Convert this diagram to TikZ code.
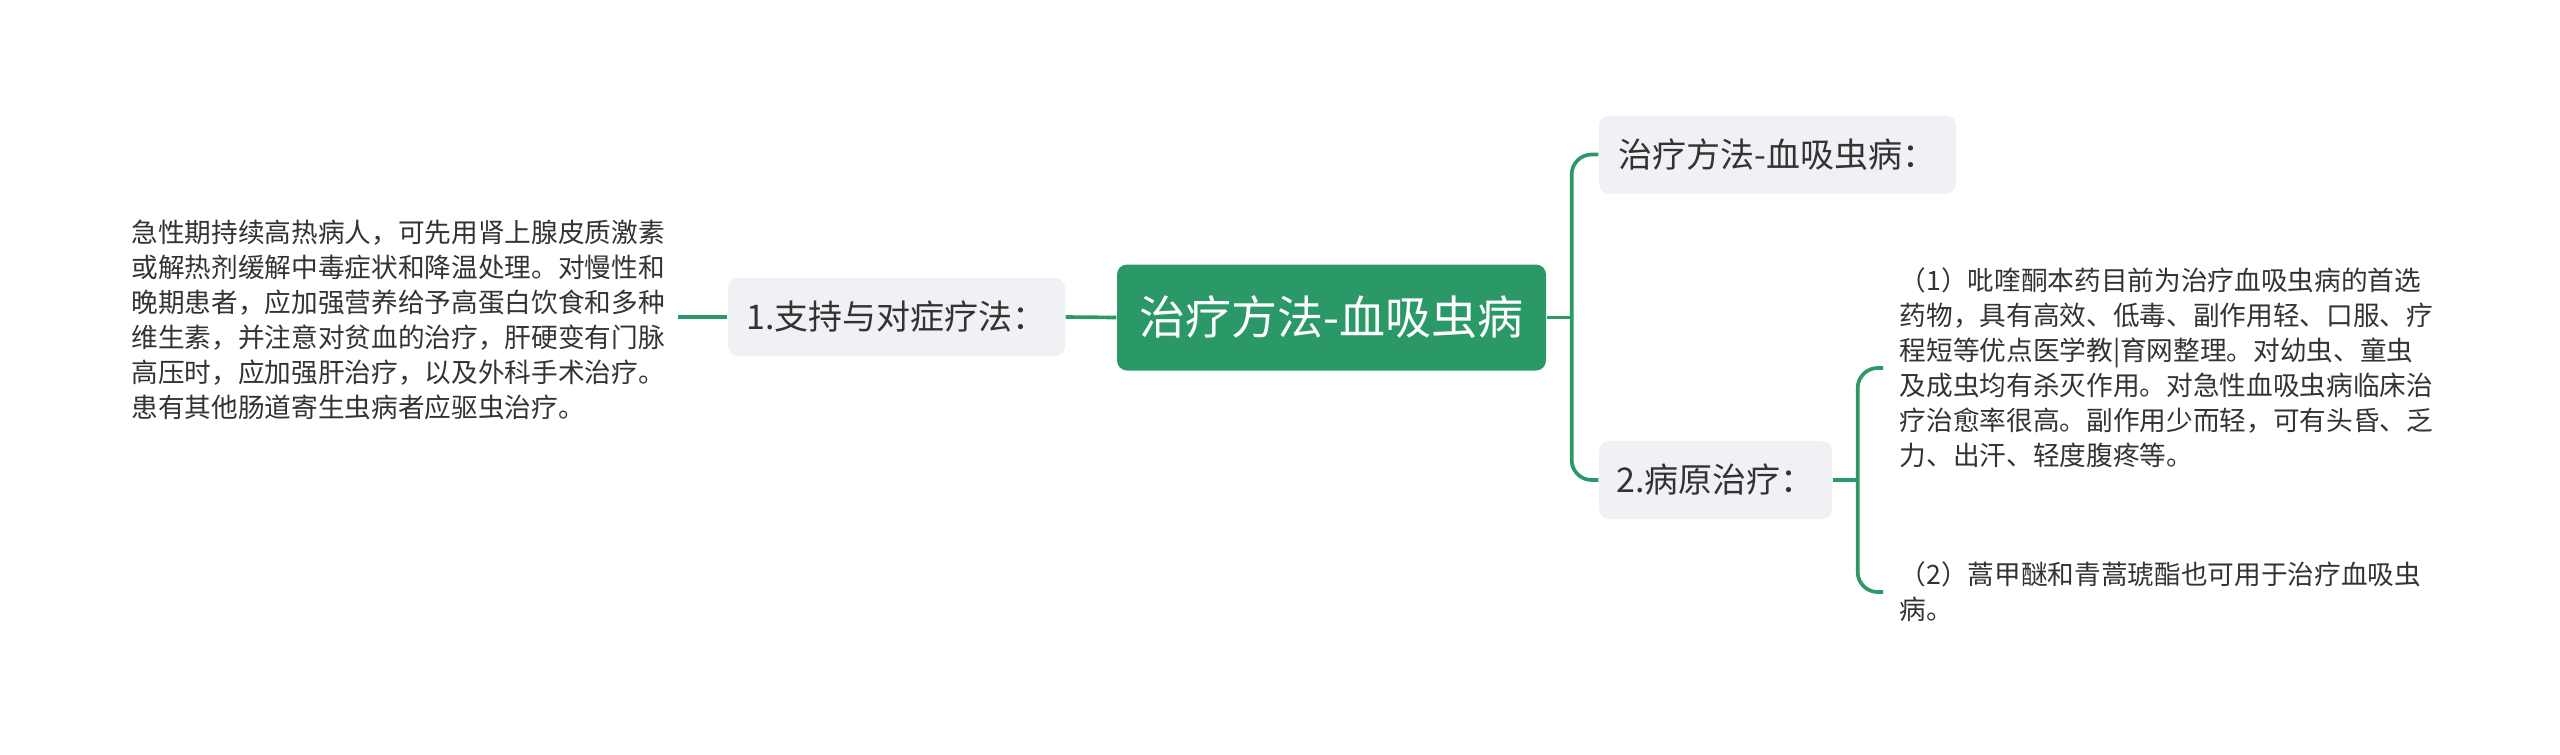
\documentclass[tikz,border=0pt]{standalone}
\usepackage{fontspec}
\setmainfont{Noto Sans CJK SC}
\usetikzlibrary{positioning,calc}

\definecolor{mapgreen}{HTML}{2B9868}
\definecolor{boxgray}{HTML}{EFF1F4}
\definecolor{inkgray}{HTML}{333333}

\begin{document}
\begin{tikzpicture}[x=0.3pt, y=-0.3pt,
    conn/.style={draw=mapgreen, line width=1.1pt},
    topic/.style={rectangle, rounded corners=3pt, fill=boxgray, text=inkgray,
        font=\fontsize{10.2}{12}\selectfont, minimum height=23.4pt, inner sep=0pt},
    para/.style={text=inkgray, align=left, inner ysep=0pt,
        font=\fontsize{8}{10.5}\selectfont}]
\useasboundingbox (0,0) rectangle (2560,754);

% Central topic
\node[rectangle, rounded corners=3pt, fill=mapgreen, text=white,
    font=\fontsize{13.8}{16}\selectfont, minimum width=128.7pt,
    minimum height=31.8pt, inner sep=0pt] (root) at (1331.5,317.5) {治疗方法-血吸虫病};

% Left branch
\node[topic, minimum width=101.1pt] (support) at (896.5,317) {1.支持与对症疗法：};
\node[para, inner xsep=3.6pt, anchor=west] (supporttext) at (119,320)
    {急性期持续高热病人，可先用肾上腺皮质激素\\
     或解热剂缓解中毒症状和降温处理。对慢性和\\
     晚期患者，应加强营养给予高蛋白饮食和多种\\
     维生素，并注意对贫血的治疗，肝硬变有门脉\\
     高压时，应加强肝治疗，以及外科手术治疗。\\
     患有其他肠道寄生虫病者应驱虫治疗。};

% Right branches
\node[topic, minimum width=107.1pt] (method) at (1777.5,154.5) {治疗方法-血吸虫病：};
\node[topic, minimum width=69.9pt] (cause) at (1715.5,480) {2.病原治疗：};

\node[para, inner xsep=4.8pt, anchor=west] (drugone) at (1883,368)
    {（1）吡喹酮本药目前为治疗血吸虫病的首选\\
     药物，具有高效、低毒、副作用轻、口服、疗\\
     程短等优点医学教|育网整理。对幼虫、童虫\\
     及成虫均有杀灭作用。对急性血吸虫病临床治\\
     疗治愈率很高。副作用少而轻，可有头昏、乏\\
     力、出汗、轻度腹疼等。};
\node[para, inner xsep=4.8pt, anchor=west] (drugtwo) at (1883,592)
    {（2）蒿甲醚和青蒿琥酯也可用于治疗血吸虫\\
     病。};

% Connectors
\coordinate (rootjoin) at ($(root.east)+(25,0)$);
\coordinate (causejoin) at ($(cause.east)+(25,0)$);

\draw[conn] (root.west) -- (support.east);
\draw[conn] (support.west) -- (support.west -| supporttext.east);

\draw[conn] (root.east) -- (rootjoin);
\draw[conn, rounded corners=6pt] (method.west) -| (rootjoin) |- (cause.west);

\draw[conn] (cause.east) -- (causejoin);
\draw[conn, rounded corners=6pt] (drugone.west) -| (causejoin) |- (drugtwo.west);
\end{tikzpicture}
\end{document}
